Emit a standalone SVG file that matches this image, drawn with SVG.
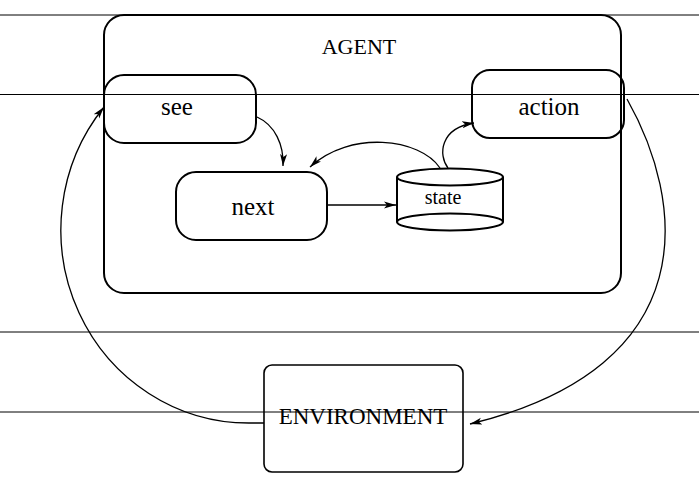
<svg xmlns="http://www.w3.org/2000/svg" width="699" height="488" viewBox="0 0 699 488">
<style>
.hl{stroke:#000;stroke-width:1;fill:none}
.box{fill:none;stroke:#000;stroke-width:2}
.lbl{font-family:"Liberation Serif","Times New Roman",serif;fill:#000;text-anchor:middle}
.con{fill:none;stroke:#000;stroke-width:1.3}
</style>
<defs>
<marker id="arr" viewBox="0 0 12 8" refX="12" refY="4" markerWidth="12" markerHeight="8" markerUnits="userSpaceOnUse" orient="auto">
<path d="M0,0.5 L12,4 L0,7.5 L3,4 z" fill="#000"/>
</marker>
</defs>
<rect width="699" height="488" fill="#fff"/>
<g id="guides">
<line class="hl" x1="0" y1="15" x2="699" y2="15"/>
<line class="hl" x1="0" y1="94.5" x2="699" y2="94.5"/>
<line class="hl" x1="0" y1="332" x2="699" y2="332"/>
<line class="hl" x1="0" y1="412" x2="699" y2="412"/>
</g>
<g id="agent">
<rect class="box" x="104" y="15" width="517" height="278" rx="20"/>
<text class="lbl" x="359" y="54" font-size="22">AGENT</text>
</g>
<g id="see">
<rect class="box" x="104" y="75" width="152" height="68" rx="20"/>
<text class="lbl" x="177" y="115" font-size="25">see</text>
</g>
<g id="next">
<rect class="box" x="176" y="172" width="151" height="68" rx="20"/>
<text class="lbl" x="253" y="215" font-size="25">next</text>
</g>
<g id="action">
<rect class="box" x="472" y="70" width="152" height="68" rx="18"/>
<text class="lbl" x="549" y="115" font-size="25">action</text>
</g>
<g id="state">
<path class="box" d="M397,177 L397,222 M503,177 L503,222"/>
<ellipse class="box" cx="450" cy="177" rx="53" ry="8.5"/>
<ellipse class="box" cx="450" cy="222" rx="53" ry="8.5"/>
<text class="lbl" x="443" y="204" font-size="20">state</text>
</g>
<g id="environment">
<rect x="264" y="365" width="199" height="107" rx="8" fill="none" stroke="#000" stroke-width="1.6"/>
<text class="lbl" x="363" y="424" font-size="23">ENVIRONMENT</text>
</g>
<g id="connectors">
<path class="con" d="M257,117 C275,125 284,145 283,166" marker-end="url(#arr)"/>
<path class="con" d="M440,168 C420,138 350,130 310,167" marker-end="url(#arr)"/>
<path class="con" d="M448,168 C438,155 440,128 474,123" marker-end="url(#arr)"/>
<path class="con" d="M327,205 L396,205" marker-end="url(#arr)"/>
<path class="con" d="M627,99 C684,200 708,366 470,424" marker-end="url(#arr)"/>
<path class="con" d="M264,423 L250,423 A188,193 0 0 1 104,107" marker-end="url(#arr)"/>
</g>
</svg>
